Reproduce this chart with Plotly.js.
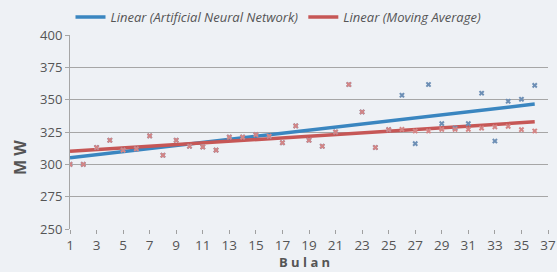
<!DOCTYPE html>
<html>
<head>
<meta charset="utf-8">
<script src="https://cdn.plot.ly/plotly-3.0.1.min.js"></script>
<style>
html,body{margin:0;padding:0;background:#eef1f5;}
#chart{width:557px;height:272px;}
</style>
</head>
<body>
<div id="chart"></div>
<script>
// Month numbers (Bulan)
var months = [1,2,3,4,5,6,7,8,9,10,11,12,13,14,15,16,17,18,19,20,21,22,23,24,25,26,27,28,29,30,31,32,33,34,35,36];
// Moving Average values (MW)
var maMW = [300,300,313,318.6,311,312,322,307,318.6,314,313.4,311,321,321,323,321.7,316.7,329.7,318.6,314,325,361.7,340.5,313,326.8,327,325.8,325.8,327,327,327,328,328.9,329.4,326.8,325.8];
// Artificial Neural Network values (MW)
var annMW = [300,300,313,318.6,311,312,322,307,318.6,314,313.4,311,321,321,323,321.7,316.7,329.7,318.6,314,325,361.7,340.5,313,326.8,353.4,316,361.7,331.5,328,331.5,355,318,348.8,350.3,361];
var yTicks = [250,275,300,325,350,375,400];
var xTicks = [1,3,5,7,9,11,13,15,17,19,21,23,25,27,29,31,33,35,37];
var legendNames = ['Linear (Artificial Neural Network)', 'Linear (Moving Average)'];

function linfit(xs, ys){
  var n = xs.length, sx=0, sy=0, sxx=0, sxy=0;
  for (var i=0;i<n;i++){ sx+=xs[i]; sy+=ys[i]; sxx+=xs[i]*xs[i]; sxy+=xs[i]*ys[i]; }
  var b = (n*sxy - sx*sy)/(n*sxx - sx*sx);
  var a = (sy - b*sx)/n;
  var x0 = xs[0], x1 = xs[n-1];
  return {x:[x0,x1], y:[a+b*x0, a+b*x1]};
}
var annFit = linfit(months, annMW);
var maFit = linfit(months, maMW);

var font = 'Open Sans, Lato, sans-serif';
var traces = [
  {x: annFit.x, y: annFit.y, mode:'lines', name: legendNames[0], line:{color:'#3a86c0', width:3.5}},
  {x: maFit.x, y: maFit.y, mode:'lines', name: legendNames[1], line:{color:'#c65756', width:3.5}},
  {x: months, y: annMW, mode:'markers', showlegend:false, marker:{symbol:'x', size:5, color:'#6d8fb5'}},
  {x: months, y: maMW, mode:'markers', showlegend:false, marker:{symbol:'x', size:5, color:'#d48585'}}
];
var layout = {
  width:557, height:272,
  paper_bgcolor:'#eef1f5', plot_bgcolor:'#eef1f5',
  margin:{l:70, r:9, t:35, b:43},
  font:{family:font, color:'#555555'},
  showlegend:true,
  legend:{orientation:'h', x:0.5, xref:'container', xanchor:'center', y:0.9375, yref:'container', yanchor:'middle',
          font:{family:font, size:13, color:'#555555', style:'italic'},
          bgcolor:'rgba(0,0,0,0)', itemwidth:30, tracegroupgap:0},
  xaxis:{range:[1,37], tickvals:xTicks, ticktext:xTicks.map(String),
         showgrid:false, zeroline:false, showline:false,
         ticks:'outside', ticklen:4, tickcolor:'#a0a0a0',
         tickfont:{size:13.5, color:'#555555', family:font}},
  yaxis:{range:[250,400], tickvals:yTicks, ticktext:yTicks.map(String),
         showgrid:true, gridcolor:'#a6a6a6', gridwidth:1, zeroline:false,
         showline:true, linecolor:'#a6a6a6', linewidth:1,
         ticks:'outside', ticklen:4, tickcolor:'#a6a6a6',
         tickfont:{size:13, color:'#555555', family:font}},
  annotations:[
    {text:'<b>B u l a n</b>', xref:'paper', yref:'paper', x:0.49, y:-0.17, xanchor:'center', yanchor:'middle', showarrow:false,
     font:{family:font, size:13, color:'#555555'}},
    {text:'<b>M W</b>', xref:'paper', yref:'paper', x:-0.105, y:0.37, xanchor:'center', yanchor:'middle', textangle:-90, showarrow:false,
     font:{family:font, size:16, color:'#555555'}}
  ]
};
Plotly.newPlot('chart', traces, layout, {displayModeBar:false, staticPlot:true});
</script>
</body>
</html>
